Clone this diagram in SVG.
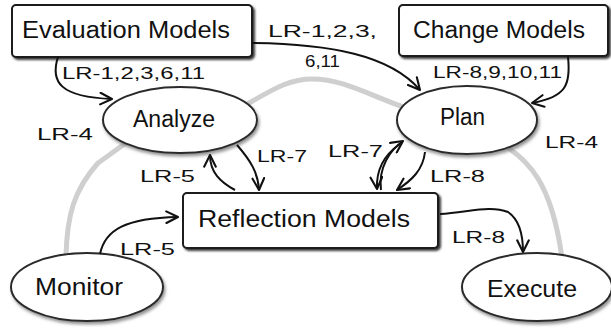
<svg xmlns="http://www.w3.org/2000/svg" width="611" height="329" viewBox="0 0 611 329">
<style>
.bg{fill:#fff}
.gray{fill:none;stroke:#cfcfcf;stroke-width:5;stroke-linecap:round}
.box{fill:#fff;stroke:#1a1a1a;stroke-width:2;filter:url(#bs)}
.ell{fill:#fff;stroke:#2a2a2a;stroke-width:2;filter:url(#es)}
.conn{fill:none;stroke:#111;stroke-width:2;marker-end:url(#ah)}
.big{font-family:"Liberation Sans","DejaVu Sans",sans-serif;font-size:23px;fill:#111}
.lbl{font-family:"Liberation Sans","DejaVu Sans",sans-serif;font-size:17px;fill:#111}
</style>
<defs>
<filter id="bs" x="-10%" y="-20%" width="130%" height="150%">
<feDropShadow dx="2" dy="2" stdDeviation="0.8" flood-color="#222" flood-opacity="0.9"/>
</filter>
<filter id="es" x="-10%" y="-20%" width="130%" height="150%">
<feDropShadow dx="1.5" dy="2.5" stdDeviation="1.5" flood-color="#777" flood-opacity="0.8"/>
</filter>
<marker id="ah" viewBox="0 0 12 12" refX="11" refY="6" markerWidth="14" markerHeight="14" markerUnits="userSpaceOnUse" orient="auto">
<path d="M1,1 L11,6 L1,11" fill="none" stroke="#111" stroke-width="1.8" stroke-linecap="round" stroke-linejoin="round"/>
</marker>
</defs>
<rect class="bg" x="0" y="0" width="611" height="329"/>

<g id="cycle">
<path class="gray" d="M66,256 C67,215 74,190 98,163 L130,140"/>
<path class="gray" d="M235,110 C262,98 282,79 312,79 C345,79 372,97 412,110"/>
<path class="gray" d="M495,140 C530,158 552,185 562,258"/>
</g>

<g id="evaluation-models">
<rect class="box" x="12" y="5" width="240" height="52" rx="4"/>
<text class="big" x="22" y="38" textLength="208" lengthAdjust="spacingAndGlyphs">Evaluation Models</text>
</g>
<g id="change-models">
<rect class="box" x="399" y="5" width="209" height="51" rx="4"/>
<text class="big" x="413" y="38" textLength="172" lengthAdjust="spacingAndGlyphs">Change Models</text>
</g>
<g id="analyze">
<ellipse class="ell" cx="180" cy="120" rx="77" ry="33"/>
<text class="big" x="133" y="127" textLength="82" lengthAdjust="spacingAndGlyphs">Analyze</text>
</g>
<g id="plan">
<ellipse class="ell" cx="467" cy="120" rx="70" ry="34"/>
<text class="big" x="440" y="125" textLength="45" lengthAdjust="spacingAndGlyphs">Plan</text>
</g>
<g id="reflection-models">
<rect class="box" x="183" y="193" width="255" height="55" rx="4"/>
<text class="big" x="198" y="227" textLength="212" lengthAdjust="spacingAndGlyphs">Reflection Models</text>
</g>
<g id="monitor">
<ellipse class="ell" cx="87" cy="287" rx="76" ry="34"/>
<text class="big" x="35" y="295" textLength="88" lengthAdjust="spacingAndGlyphs">Monitor</text>
</g>
<g id="execute">
<ellipse class="ell" cx="537" cy="287" rx="75" ry="34"/>
<text class="big" x="487" y="297" textLength="90" lengthAdjust="spacingAndGlyphs">Execute</text>
</g>

<g id="connectors">
<path class="conn" d="M58,57 C50,82 60,97 112,99"/>
<path class="conn" d="M252,43 C330,44 390,55 420,90"/>
<path class="conn" d="M568,57 C571,85 566,97 532,103"/>
<path class="conn" d="M237,145 C250,160 258,172 259,190"/>
<path class="conn" d="M235,190 C220,182 210,172 210,155"/>
<path class="conn" d="M381,190 C378,168 390,150 403,141"/>
<path class="conn" d="M400,144 C384,155 376,170 377,189"/>
<path class="conn" d="M425,152 C423,170 412,180 397,190"/>
<path class="conn" d="M100,254 C105,230 125,218 178,217"/>
<path class="conn" d="M440,214 C470,212 490,205 508,212 C520,220 523,235 523,252"/>
</g>

<g id="labels">
<text class="lbl" x="62" y="79" textLength="143" lengthAdjust="spacingAndGlyphs">LR-1,2,3,6,11</text>
<text class="lbl" x="268" y="37" textLength="109" lengthAdjust="spacingAndGlyphs">LR-1,2,3,</text>
<text class="lbl" x="305" y="67" textLength="35" lengthAdjust="spacingAndGlyphs">6,11</text>
<text class="lbl" x="433" y="78" textLength="129" lengthAdjust="spacingAndGlyphs">LR-8,9,10,11</text>
<text class="lbl" x="37" y="140" textLength="56" lengthAdjust="spacingAndGlyphs">LR-4</text>
<text class="lbl" x="545" y="148" textLength="53" lengthAdjust="spacingAndGlyphs">LR-4</text>
<text class="lbl" x="257" y="162" textLength="50" lengthAdjust="spacingAndGlyphs">LR-7</text>
<text class="lbl" x="328" y="157" textLength="55" lengthAdjust="spacingAndGlyphs">LR-7</text>
<text class="lbl" x="140" y="182" textLength="55" lengthAdjust="spacingAndGlyphs">LR-5</text>
<text class="lbl" x="120" y="255" textLength="55" lengthAdjust="spacingAndGlyphs">LR-5</text>
<text class="lbl" x="430" y="182" textLength="55" lengthAdjust="spacingAndGlyphs">LR-8</text>
<text class="lbl" x="452" y="243" textLength="53" lengthAdjust="spacingAndGlyphs">LR-8</text>
</g>
</svg>
